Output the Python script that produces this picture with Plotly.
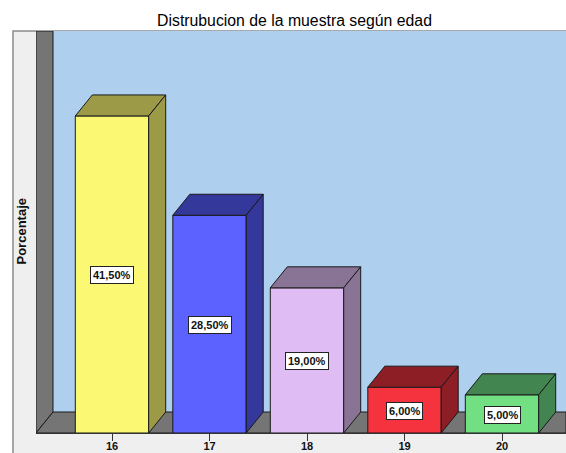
import plotly.graph_objects as go

ages = [16, 17, 18, 19, 20]
values = [41.5, 28.5, 19.0, 6.0, 5.0]
labels = ["41,50%", "28,50%", "19,00%", "6,00%", "5,00%"]
front = ["#FBF873", "#5B62FF", "#DFBCF3", "#F5333F", "#72DF83"]
side = ["#9C9A47", "#34389A", "#8A7496", "#8E1E25", "#438551"]

W, H = 566, 453
L, R, T, B = 36, 0, 31, 20
PXU = 97.5          # pixels per x unit
PYU = 7.64          # pixels per percentage point
XMIN = 16 - (112 - L) / PXU
XMAX = XMIN + (W - L - R) / PXU
YMAX = (H - T - B) / PYU
DX = 17 / PXU       # oblique depth
DY = 21 / PYU
HALF = 36.7 / PXU   # half bar width
WALL = "#757575"
EDGE = "#1a1a1a"

fig = go.Figure()


def poly(xs, ys, fill):
    fig.add_trace(go.Scatter(x=xs + xs[:1], y=ys + ys[:1], mode="lines", fill="toself",
                             fillcolor=fill, line=dict(color=EDGE, width=1),
                             hoverinfo="skip", showlegend=False))


def under(xs, ys, fill, line=EDGE):
    path = "M" + "L".join("%f,%f" % p for p in zip(xs, ys)) + "Z"
    fig.add_shape(type="path", path=path, xref="x", yref="y", layer="below",
                  fillcolor=fill, line=dict(color=line, width=1))


# outer panel
fig.add_shape(type="rect", xref="paper", yref="paper", layer="below",
              x0=(13 - L) / (W - L - R), x1=1.01, y0=-B / (H - T - B) - 0.01, y1=1,
              fillcolor="#EFEFEF", line=dict(color="#8c8c8c", width=1.5))
# back wall, left wall, floor
under([XMIN + DX, XMAX, XMAX, XMIN + DX], [DY, DY, YMAX, YMAX], "#AED0EE", "#AED0EE")
under([XMIN, XMIN + DX, XMIN + DX, XMIN], [0, DY, YMAX, YMAX], WALL)
under([XMIN, XMAX, XMAX, XMIN + DX], [0, 0, DY, DY], WALL)

fig.add_trace(go.Bar(x=ages, y=values, width=2 * HALF, marker=dict(color=front, line=dict(color=EDGE, width=1)),
                     hoverinfo="skip", showlegend=False))
for a, v, s in zip(ages, values, side):
    x0, x1 = a - HALF, a + HALF
    poly([x0, x1, x1 + DX, x0 + DX], [v, v, v + DY, v + DY], s)
    poly([x1, x1 + DX, x1 + DX, x1], [0, DY, v + DY, v], s)

for a, v, t in zip(ages, values, labels):
    fig.add_annotation(x=a, y=v / 2, text="<b>%s</b>" % t, showarrow=False,
                       font=dict(family="Liberation Sans", size=11, color="#111111"),
                       bgcolor="white", bordercolor="#222222", borderwidth=1, borderpad=2, yshift=-1)

fig.update_layout(
    width=W, height=H, margin=dict(l=L, r=R, t=T, b=B, pad=0, autoexpand=False),
    paper_bgcolor="white", plot_bgcolor="rgba(0,0,0,0)", barmode="overlay",
    title=dict(text="Distrubucion de la muestra según edad", x=294.5 / W, xanchor="center",
               y=1 - 20 / H, yanchor="middle", automargin=False,
               font=dict(family="Liberation Sans", size=15.8, color="#000000")),
    xaxis=dict(range=[XMIN, XMAX], tickmode="array", tickvals=ages, ticktext=["<b>%d</b>" % a for a in ages],
               ticks="outside", ticklen=7, tickcolor="#333333", tickwidth=1, showgrid=False, zeroline=False,
               showline=True, linecolor="#333333", linewidth=1, automargin=False, ticklabelstandoff=-4,
               tickfont=dict(family="Liberation Sans", size=11, color="#111111")),
    yaxis=dict(range=[0, YMAX], showticklabels=False, ticks="", showgrid=False, zeroline=False,
               showline=False, automargin=False),
    font=dict(family="Liberation Sans"),
)
fig.add_annotation(xref="paper", yref="paper", x=(20.5 - L) / (W - L - R), y=(H - B - 232) / (H - T - B),
                   xanchor="center", yanchor="middle",
                   text="<b>Porcentaje</b>", textangle=-90, showarrow=False,
                   font=dict(family="Liberation Sans", size=13, color="#111111"))

fig.write_html("out.html", config=dict(displayModeBar=False),
               post_script="document.body.style.margin='0';document.documentElement.style.overflow='hidden';")
